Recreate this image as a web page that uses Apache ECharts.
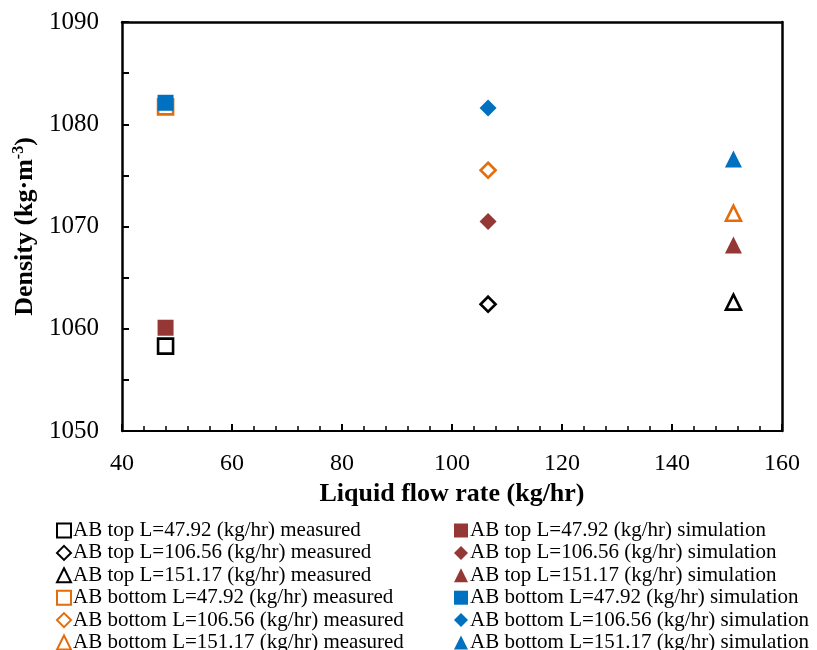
<!DOCTYPE html>
<html>
<head>
<meta charset="utf-8">
<script src="https://cdn.jsdelivr.net/npm/echarts@6/dist/echarts.min.js"></script>
<style>
  html, body { margin: 0; padding: 0; background: #fff; }
  #main { width: 817px; height: 650px; }
</style>
</head>
<body>
<div id="main"></div>
<script>
var flows = [47.92, 106.56, 151.17];
var topMeasured = [1058.3, 1062.4, 1062.6];
var topSim = [1060.1, 1070.5, 1068.2];
var bottomMeasured = [1081.7, 1075.5, 1071.3];
var bottomSim = [1082.1, 1081.6, 1076.6];
var flowNames = ['47.92', '106.56', '151.17'];
var shapes = ['rect', 'diamond', 'triangle'];

var dom = document.getElementById('main');
var myChart = echarts.init(dom, null, { renderer: 'canvas' });
var font = 'Liberation Serif, Times New Roman, serif';

function makeSeries(pos, kind, values, color) {
  var out = [];
  for (var i = 0; i < flows.length; i++) {
    var open = kind === 'measured';
    var size = 15;
    if (!open) size = shapes[i] === 'rect' ? 16 : 17;
    out.push({
      name: 'AB ' + pos + ' L=' + flowNames[i] + ' (kg/hr) ' + kind,
      type: 'scatter',
      symbol: shapes[i],
      symbolSize: size,
      data: [[flows[i], values[i]]],
      itemStyle: open
        ? { color: '#fff', borderColor: color, borderWidth: 2.6, opacity: 1 }
        : { color: color, opacity: 1 }
    });
  }
  return out;
}

var series = [].concat(
  makeSeries('top', 'measured', topMeasured, '#000000'),
  makeSeries('bottom', 'measured', bottomMeasured, '#E46C0A'),
  makeSeries('top', 'simulation', topSim, '#953735'),
  makeSeries('bottom', 'simulation', bottomSim, '#0070C0')
);

var leftNames = series.slice(0, 6).map(function (s) { return s.name; });
var rightNames = series.slice(6).map(function (s) { return s.name; });

var legendBase = {
  orient: 'vertical',
  top: 520,
  height: 200,
  padding: 0,
  itemWidth: 14,
  itemHeight: 14,
  itemGap: 1.4,
  textStyle: { fontFamily: font, fontSize: 21, lineHeight: 21, color: '#000', padding: [0, 0, 0, -3] }
};

var option = {
  animation: false,
  grid: { left: 122, right: 35, top: 22, bottom: 219, outerBoundsMode: 'none', containLabel: false },
  legend: [
    Object.assign({}, legendBase, { left: 56, data: leftNames }),
    Object.assign({}, legendBase, { left: 454, data: rightNames })
  ],
  xAxis: {
    type: 'value',
    min: 40, max: 160, interval: 20,
    name: 'Liquid flow rate (kg/hr)',
    nameLocation: 'middle',
    nameGap: 47,
    nameTextStyle: { fontFamily: font, fontSize: 26, fontWeight: 'bold', color: '#000' },
    axisLine: { show: true, onZero: false, lineStyle: { color: '#000', width: 2 } },
    axisTick: { show: true, inside: true, length: 7, lineStyle: { color: '#000', width: 2 } },
    minorTick: { show: true, splitNumber: 5, length: 5, lineStyle: { color: '#000', width: 1.5 } },
    axisLabel: { fontFamily: font, fontSize: 24, color: '#000', margin: 21 },
    splitLine: { show: false }
  },
  yAxis: {
    type: 'value',
    min: 1050, max: 1090, interval: 10,
    name: 'Density (kg·m{sup|-3})',
    nameLocation: 'middle',
    nameGap: 82,
    nameTextStyle: {
      fontFamily: font, fontSize: 26, fontWeight: 'bold', color: '#000',
      rich: { sup: { fontFamily: font, fontSize: 16, fontWeight: 'bold', color: '#000', verticalAlign: 'top', padding: [0, 0, 12, 0] } }
    },
    axisLine: { show: true, onZero: false, lineStyle: { color: '#000', width: 2.5 } },
    axisTick: { show: true, inside: true, length: 7, lineStyle: { color: '#000', width: 2 } },
    minorTick: { show: true, splitNumber: 2, length: 7, lineStyle: { color: '#000', width: 2 } },
    axisLabel: { fontFamily: font, fontSize: 25, color: '#000', margin: 23, formatter: function (v) { return String(v); } },
    splitLine: { show: false }
  },
  series: series
};

// box around the plot area
option.xAxis = [option.xAxis, {
  type: 'value', position: 'top', min: 40, max: 160,
  axisLine: { show: true, lineStyle: { color: '#000', width: 2.5 } },
  axisTick: { show: false }, axisLabel: { show: false }, splitLine: { show: false }
}];
option.yAxis = [option.yAxis, {
  type: 'value', position: 'right', min: 1050, max: 1090,
  axisLine: { show: true, lineStyle: { color: '#000', width: 2.5 } },
  axisTick: { show: false }, axisLabel: { show: false }, splitLine: { show: false }
}];

myChart.setOption(option);
window.addEventListener('resize', myChart.resize);
</script>
</body>
</html>
